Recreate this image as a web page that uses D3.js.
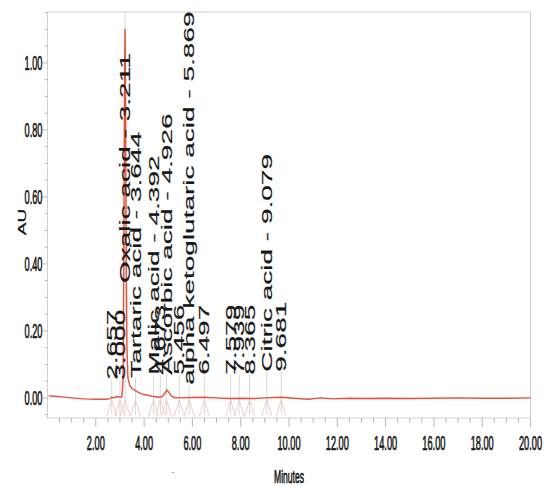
<!DOCTYPE html>
<html>
<head>
<meta charset="utf-8">
<script src="https://cdn.jsdelivr.net/npm/d3@7/dist/d3.min.js"></script>
<style>
  html, body { margin: 0; padding: 0; background: #fff; }
  svg { display: block; }
  text { font-family: "Liberation Sans", Arial, Helvetica, sans-serif; fill: #161616; }
  .bold { stroke: #161616; stroke-width: 0.7px; }
  .lab { stroke: #161616; stroke-width: 0.35px; }
</style>
</head>
<body>
<svg id="chart" width="544" height="486"></svg>
<script>
// Chromatogram trace: retention time (min) and absorbance (AU)
const traceTime = [0.05, 0.3, 0.6, 1.0, 1.5, 2.0, 2.4, 2.6, 2.66, 2.75, 2.85, 2.95, 3.05, 3.08,
  3.13, 3.16, 3.19, 3.211, 3.235, 3.26, 3.29, 3.33, 3.4, 3.5, 3.65, 3.8, 4.0, 4.2, 4.4, 4.6,
  4.75, 4.85, 4.94, 5.02, 5.12, 5.25, 5.5, 6.0, 6.5, 7.0, 7.5, 8.0, 8.5, 9.0, 9.7, 10.2, 10.8,
  11.3, 11.8, 12.5, 13.0, 14.0, 15.0, 16.0, 17.0, 18.0, 19.0, 20.0];
const traceAU = [0.006, 0.005, 0.003, 0.000, -0.003, -0.004, -0.004, -0.002, 0.002, 0.000, 0.004, 0.003, 0.002, 0.004,
  0.05, 0.45, 0.95, 1.10, 0.85, 0.40, 0.15, 0.06, 0.038, 0.028, 0.021, 0.015, 0.010, 0.007, 0.004, 0.002,
  0.004, 0.013, 0.024, 0.017, 0.006, 0.001, 0.000, 0.001, 0.002, 0.000, -0.002, -0.001, -0.002, 0.000, 0.002, -0.001, -0.004,
  0.000, -0.003, -0.001, -0.002, -0.001, -0.002, -0.001, 0.000, -0.001, -0.001, 0.000];

// Integrated peaks: retention time, compound name, label base level (AU)
const peakTimes = [2.657, 3.000, 3.211, 3.644, 4.392, 4.673, 4.926, 5.456, 5.869, 6.497, 7.579, 7.939, 8.365, 9.079, 9.681];
const peakNames = ["", "", "Oxalic acid", "Tartaric acid", "Malic acid", "", "Ascorbic acid", "",
  "alpha ketoglutaric acid", "", "", "", "", "Citric acid", ""];
const labelLevel = [0.054, 0.054, 0.343, 0.06, 0.069, 0.069, 0.069, 0.069, 0.039, 0.069, 0.069, 0.069, 0.069, 0.078, 0.078];

// Axis ticks
const yTickValues = [0.00, 0.20, 0.40, 0.60, 0.80, 1.00];
const xTickValues = [2, 4, 6, 8, 10, 12, 14, 16, 18, 20];

const svg = d3.select("#chart");
const x = d3.scaleLinear().domain([0, 20]).range([47.5, 530.5]);
const y = d3.scaleLinear().domain([-0.06, 1.152]).range([418, 12]);
const fmt = d3.format(".2f");
const SQ = 0.45; // horizontal squeeze of the lettering

// frame
svg.append("rect")
  .attr("x", x(0)).attr("y", y(1.152))
  .attr("width", x(20) - x(0)).attr("height", y(-0.06) - y(1.152))
  .attr("fill", "none").attr("stroke", "#cfcfcf").attr("stroke-width", 1);

// y axis ticks (minor every 0.05, major every 0.2)
const yMinor = d3.range(-0.05, 1.151, 0.05);
svg.append("g").selectAll("line").data(yMinor).join("line")
  .attr("x1", d => x(0) - (Math.abs(d / 0.2 - Math.round(d / 0.2)) < 1e-6 ? 5 : 3))
  .attr("x2", x(0))
  .attr("y1", d => y(d)).attr("y2", d => y(d))
  .attr("stroke", "#b8b8b8").attr("stroke-width", 1);

svg.append("g").selectAll("text").data(yTickValues).join("text")
  .attr("class", "bold")
  .attr("transform", d => `translate(${x(0) - 5},${y(d)}) scale(${SQ},1)`)
  .attr("dy", "0.36em")
  .attr("text-anchor", "end")
  .attr("font-size", 20.5)
  .text(d => fmt(d));

// x axis ticks (minor every 0.5, major every 2)
const xMinor = d3.range(0.5, 20.01, 0.5);
svg.append("g").selectAll("line").data(xMinor).join("line")
  .attr("x1", d => x(d)).attr("x2", d => x(d))
  .attr("y1", y(-0.06))
  .attr("y2", d => y(-0.06) + (Math.abs(d % 2) < 1e-6 ? 9 : 5))
  .attr("stroke", "#b8b8b8").attr("stroke-width", 1);

svg.append("g").selectAll("text").data(xTickValues).join("text")
  .attr("class", "bold")
  .attr("transform", d => `translate(${x(d)},450) scale(${SQ},1)`)
  .attr("text-anchor", "middle")
  .attr("font-size", 20.5)
  .text(d => fmt(d));

// axis titles
svg.append("text")
  .attr("class", "lab")
  .attr("transform", `translate(26,222) scale(0.62,1) rotate(-90)`)
  .attr("text-anchor", "middle")
  .attr("font-size", 19)
  .text("AU");

svg.append("text")
  .attr("class", "bold")
  .attr("transform", `translate(${x(10)},483) scale(${SQ},1)`)
  .attr("text-anchor", "middle")
  .attr("font-size", 19)
  .text("Minutes");

svg.append("text")
  .attr("x", 173).attr("y", 475)
  .attr("text-anchor", "middle")
  .attr("font-size", 9)
  .style("fill", "#888")
  .text("-");

// peak markers below the baseline
const peaks = peakTimes.map((t, i) => ({ t, name: peakNames[i], level: labelLevel[i] }));
const marks = svg.append("g");
marks.selectAll("path").data(peaks).join("path")
  .attr("d", d => `M${x(d.t) - 5},${y(-0.055)} L${x(d.t)},${y(-0.006)} L${x(d.t) + 5},${y(-0.055)}`)
  .attr("fill", "none").attr("stroke", "#f2c8be").attr("stroke-width", 0.9);
marks.selectAll("line").data(peaks).join("line")
  .attr("x1", d => x(d.t)).attr("x2", d => x(d.t))
  .attr("y1", d => d.name === "Oxalic acid" ? y(1.152) : y(d.level))
  .attr("y2", y(-0.05))
  .attr("stroke", "#cfcfcf").attr("stroke-width", 0.8);

// chromatogram trace
const line = d3.line().x((d, i) => x(traceTime[i])).y(d => y(d));
svg.append("path")
  .datum(traceAU)
  .attr("d", line)
  .attr("fill", "none")
  .attr("stroke", "#e8503a")
  .attr("stroke-width", 1.4)
  .attr("stroke-linejoin", "round");

// peak labels, rotated
svg.append("g").selectAll("text").data(peaks).join("text")
  .attr("class", "lab")
  .attr("transform", d => `translate(${x(d.t)},${y(d.level)}) scale(0.5,1) rotate(-90)`)
  .attr("dy", "0.36em")
  .attr("font-size", 28)
  .text(d => d.name ? `${d.name} - ${d.t.toFixed(3)}` : d.t.toFixed(3));
</script>
</body>
</html>
